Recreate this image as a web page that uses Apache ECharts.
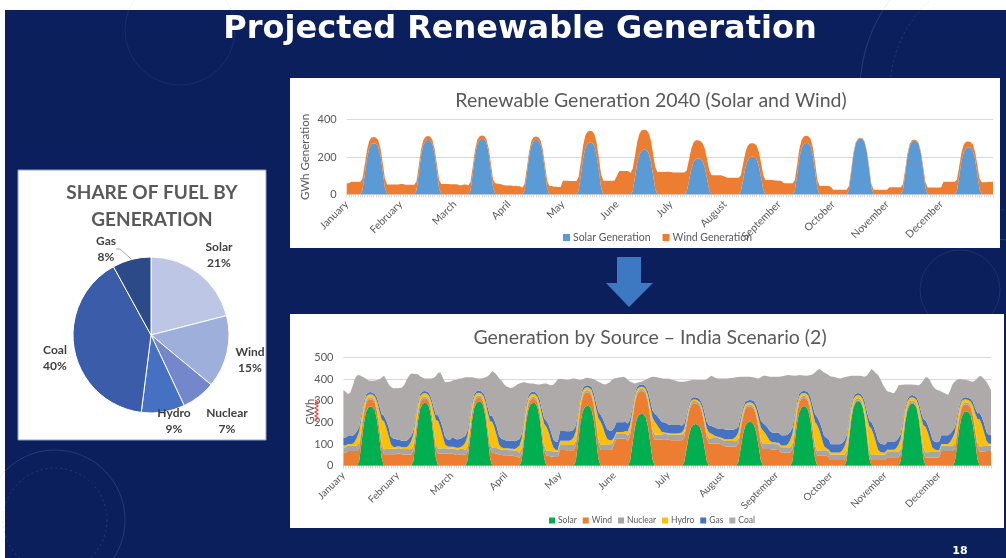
<!DOCTYPE html>
<html>
<head>
<meta charset="utf-8">
<script src="https://cdn.jsdelivr.net/npm/echarts@6/dist/echarts.min.js"></script>
<style>
  html, body { margin: 0; padding: 0; background: #0a1f5b; }
  #slide { width: 1006px; height: 558px; }
</style>
</head>
<body>
<div id="slide"></div>
<script>
// Months shown on both time-series charts; each month is a typical day of 24 hourly values (GWh).
const months = ['January', 'February', 'March', 'April', 'May', 'June',
                'July', 'August', 'September', 'October', 'November', 'December'];

// Share of fuel by generation (%)
const fuelNames = ['Solar', 'Wind', 'Nuclear', 'Hydro', 'Coal', 'Gas'];
const fuelShare = [21, 15, 7, 9, 40, 8];

// Hourly solar generation, one row per month
const solar = [
  [0,0,0,0,0,0,0,22,104,192,247,269,274,271,255,206,123,33,0,0,0,0,0,0],
  [0,0,0,0,0,0,0,23,111,204,263,286,292,289,272,219,131,35,0,0,0,0,0,0],
  [0,0,0,0,0,0,0,24,113,209,268,292,298,295,277,224,134,36,0,0,0,0,0,0],
  [0,0,0,0,0,0,0,23,111,204,263,286,292,289,272,219,131,35,0,0,0,0,0,0],
  [0,0,0,0,0,0,0,22,106,195,250,272,278,275,259,209,125,33,0,0,0,0,0,0],
  [0,0,0,0,0,0,0,19,91,168,216,235,240,238,223,180,108,29,0,0,0,0,0,0],
  [0,0,0,0,0,0,0,15,73,135,174,189,193,191,179,145,87,23,0,0,0,0,0,0],
  [0,0,0,0,0,0,0,16,77,142,183,199,203,201,189,152,91,24,0,0,0,0,0,0],
  [0,0,0,0,0,0,0,22,105,193,248,270,276,273,257,207,124,33,0,0,0,0,0,0],
  [0,0,0,0,0,0,0,24,114,209,269,293,299,296,278,224,135,36,0,0,0,0,0,0],
  [0,0,0,0,0,0,0,23,109,202,259,282,288,285,268,216,130,35,0,0,0,0,0,0],
  [0,0,0,0,0,0,0,20,96,176,227,247,252,249,234,189,113,30,0,0,0,0,0,0]
];

// Hourly wind generation
const wind = [
  [60,60,68,68,68,68,68,62,55,46,40,35,33,33,35,40,46,50,53,53,53,53,53,53],
  [56,56,52,52,52,52,52,48,42,34,26,22,20,20,22,28,36,44,56,56,56,56,55,55],
  [55,55,50,50,53,53,48,44,38,30,24,19,17,17,19,26,34,44,60,58,57,52,50,48],
  [48,48,46,46,44,44,36,34,30,26,22,19,18,18,20,26,32,40,46,46,42,42,40,40],
  [73,73,73,72,72,72,72,72,70,68,66,64,62,62,64,66,70,72,73,73,73,73,73,75],
  [100,125,125,125,125,125,115,118,115,112,110,108,106,106,108,112,115,118,120,120,120,120,122,122],
  [120,118,118,118,118,118,118,115,112,108,104,100,96,94,96,100,104,106,103,103,103,103,103,100],
  [95,90,89,89,89,89,89,86,84,80,76,73,71,71,73,76,78,78,77,77,77,77,75,75],
  [73,73,60,60,60,60,60,56,52,48,44,40,38,38,40,44,46,46,46,46,46,46,46,42],
  [26,26,26,26,26,26,26,22,16,12,8,5,4,4,5,8,14,20,26,26,26,26,26,26],
  [26,39,39,39,39,39,39,32,24,16,10,7,5,5,7,12,20,30,38,38,38,38,38,38],
  [39,68,68,68,68,68,68,60,55,48,40,34,31,31,34,40,48,56,66,66,66,68,68,68]
];

// Hourly nuclear generation
const nuclear = [
  [25,25,25,25,25,25,24,22,18,14,12,10,10,10,11,13,16,20,23,24,25,25,25,25],
  [25,25,25,25,25,25,24,22,18,14,12,10,10,10,11,13,16,20,23,24,25,25,25,25],
  [25,25,25,25,25,25,24,22,18,14,12,10,10,10,11,13,16,20,23,24,25,25,25,25],
  [25,25,25,25,25,25,24,22,18,14,12,10,10,10,11,13,16,20,23,24,25,25,25,25],
  [25,25,25,25,25,25,24,22,18,14,12,10,10,10,11,13,16,20,23,24,25,25,25,25],
  [25,25,25,25,25,25,24,22,18,14,12,10,10,10,11,13,16,20,23,24,25,25,25,25],
  [25,25,25,25,25,25,24,22,18,14,12,10,10,10,11,13,16,20,23,24,25,25,25,25],
  [25,25,25,25,25,25,24,22,18,14,12,10,10,10,11,13,16,20,23,24,25,25,25,25],
  [25,25,25,25,25,25,24,22,18,14,12,10,10,10,11,13,16,20,23,24,25,25,25,25],
  [25,25,25,25,25,25,24,22,18,14,12,10,10,10,11,13,16,20,23,24,25,25,25,25],
  [25,25,25,25,25,25,24,22,18,14,12,10,10,10,11,13,16,20,23,24,25,25,25,25],
  [25,25,25,25,25,25,24,22,18,14,12,10,10,10,11,13,16,20,23,24,25,25,25,25]
];

// Hourly hydro generation
const hydro = [
  [8,8,8,8,8,18,38,52,45,30,20,15,14,14,18,35,65,110,130,100,62,22,10,8],
  [8,8,8,8,8,18,36,50,44,30,20,15,14,14,18,35,66,112,128,96,58,20,10,8],
  [8,8,8,8,8,16,34,48,42,28,18,14,13,13,17,32,60,105,120,92,55,20,10,8],
  [8,8,8,8,8,15,32,45,40,27,18,14,13,13,16,30,56,98,110,85,50,18,9,8],
  [18,18,18,18,18,22,34,44,38,26,18,14,13,13,16,28,52,95,108,82,48,25,20,18],
  [6,6,6,6,6,10,20,28,24,18,13,10,10,10,12,20,35,55,60,45,28,12,8,6],
  [6,6,6,6,6,8,12,18,16,12,9,8,8,8,9,12,18,25,28,22,14,8,6,6],
  [8,8,8,8,8,12,22,30,26,18,13,10,10,10,12,20,35,55,62,48,30,14,9,8],
  [8,8,8,8,8,16,34,48,42,28,18,14,13,13,17,32,60,105,120,92,55,20,10,8],
  [10,10,10,10,10,18,36,50,44,30,20,15,14,14,18,35,62,108,122,95,58,22,12,10],
  [10,10,10,10,10,17,35,48,42,29,19,15,14,14,18,34,60,104,118,92,56,21,12,10],
  [8,8,8,8,8,18,38,52,45,30,20,15,14,14,18,35,65,110,125,98,60,22,10,8]
];

// Hourly gas generation
const gas = [
  [37,37,37,37,37,35,30,22,15,12,10,10,10,10,12,18,23,25,25,32,40,35,38,40],
  [30,30,30,30,30,30,26,20,14,11,10,10,10,10,12,16,22,24,26,32,38,34,32,30],
  [40,40,40,40,40,38,32,24,16,12,10,10,10,10,12,18,24,26,28,34,42,40,40,40],
  [36,36,36,36,36,34,30,22,15,12,10,10,10,10,12,18,24,26,28,34,40,38,38,38],
  [45,45,45,45,45,42,36,26,17,13,11,10,10,11,13,20,26,30,32,38,45,45,45,45],
  [45,45,45,45,45,42,36,26,17,13,11,10,10,11,13,20,28,34,38,42,46,46,45,45],
  [40,40,40,40,40,38,32,24,16,12,10,10,10,10,12,18,25,30,33,35,38,38,38,40],
  [45,45,45,45,45,42,36,26,17,13,11,10,10,11,13,20,28,32,35,40,45,45,45,45],
  [48,48,48,48,48,45,38,28,18,14,11,10,10,11,14,22,30,34,36,42,48,48,48,48],
  [38,38,38,38,38,36,30,22,15,12,10,10,10,10,12,18,25,28,30,36,42,40,40,38],
  [36,36,36,36,36,34,30,22,15,12,10,10,10,10,12,18,24,27,30,35,40,38,36,36],
  [40,40,40,40,40,38,32,24,16,12,10,10,10,10,12,18,24,27,30,36,42,40,40,40]
];

// Hourly coal generation
const coal = [
  [220,212,194,200,227,254,258,240,177,115,73,57,52,55,64,85,127,170,186,189,198,230,232,232],
  [239,241,247,260,282,290,289,263,195,130,83,65,58,61,69,93,135,180,197,224,233,251,266,271],
  [264,269,274,279,278,274,271,247,182,116,75,60,56,59,70,97,146,194,207,222,241,268,270,259],
  [251,247,245,247,255,258,258,238,172,101,57,42,37,38,45,70,119,162,173,187,216,252,273,289],
  [241,240,238,237,238,241,238,216,150,81,43,35,34,34,41,64,105,139,148,161,185,212,222,235],
  [228,205,207,209,211,206,203,177,120,56,21,13,13,18,31,59,106,156,170,178,188,202,203,204],
  [213,211,208,205,202,200,203,195,156,112,87,80,80,84,90,109,147,196,221,233,232,232,232,233],
  [231,236,237,238,239,239,238,231,190,145,117,110,108,108,110,124,156,201,220,227,237,251,258,259],
  [258,258,272,274,277,274,263,242,182,121,87,75,71,72,79,102,147,194,217,244,266,293,298,297],
  [314,313,311,307,305,301,294,272,207,139,98,84,80,82,90,114,166,220,247,259,277,307,297,279],
  [263,235,232,228,225,235,244,227,167,103,66,52,49,51,58,80,130,179,201,219,236,251,249,243],
  [236,202,197,192,186,201,216,212,168,121,91,82,80,80,82,94,129,162,172,188,207,234,227,209]
];

// ---- table building ----
const hourCategories = months.flatMap(m => Array.from({ length: 24 }, (_, h) => m + '|' + h));
const flat = rows => rows.flat();

const NAVY = '#0a1f5b';
const GREY_TEXT = '#595959';
const GRID_LINE = '#d9d9d9';
const chartFont = 'Lato, "Liberation Sans", sans-serif';

function timeAxis(gridIndex, fontSize) {
  return {
    type: 'category', gridIndex, data: hourCategories, boundaryGap: false,
    axisLine: { lineStyle: { color: GRID_LINE, width: 1 } },
    axisTick: { show: true, interval: 0, length: 3, lineStyle: { color: GRID_LINE } },
    axisLabel: {
      interval: 23, rotate: 45, margin: 8, color: GREY_TEXT, fontSize,
      fontFamily: chartFont, formatter: v => v.split('|')[0]
    },
    splitLine: { show: false }
  };
}

function valueAxis(gridIndex, max, interval, name, nameGap, nameSize) {
  return {
    type: 'value', gridIndex, min: 0, max, interval,
    name, nameLocation: 'middle', nameRotate: 90, nameGap, nameMoveOverlap: false,
    nameTextStyle: { color: GREY_TEXT, fontSize: nameSize, fontFamily: chartFont },
    axisLine: { show: false }, axisTick: { show: false },
    axisLabel: { color: GREY_TEXT, fontSize: 11, margin: 10, fontFamily: chartFont },
    splitLine: { lineStyle: { color: GRID_LINE, width: 1 } }
  };
}

function areaSeries(name, rows, color, xi, stack) {
  return {
    name, type: 'line', xAxisIndex: xi, yAxisIndex: xi, stack,
    data: flat(rows), symbol: 'none', smooth: false,
    lineStyle: { width: 0 }, itemStyle: { color },
    areaStyle: { color, opacity: 1 }, emphasis: { disabled: true }
  };
}

const bottomColors = { Solar: '#00b050', Wind: '#ed7d31', Nuclear: '#a5a5a5', Hydro: '#ffc000', Gas: '#4472c4', Coal: '#aeaaaa' };
const pieColors = ['#bdc7e5', '#9eafdc', '#7487cb', '#4671c3', '#3b5ca9', '#2d4a88'];

// where each pie label block sits (centre of the two-line text)
const pieLabelSpots = [[219, 255], [250, 360], [227, 421], [174, 421], [55, 358], [106, 249]];

// faint circuit-style ornaments on the slide background
const ornament = 'rgba(130,160,215,0.22)';
const decorations = [
  { type: 'circle', shape: { cx: 1010, cy: 90, r: 150 }, style: { fill: 'none', stroke: ornament, lineWidth: 1 } },
  { type: 'circle', shape: { cx: 1010, cy: 90, r: 120 }, style: { fill: 'none', stroke: ornament, lineWidth: 1, lineDash: [2, 3] } },
  { type: 'circle', shape: { cx: 180, cy: 30, r: 55 }, style: { fill: 'none', stroke: 'rgba(130,160,215,0.12)', lineWidth: 1 } },
  { type: 'circle', shape: { cx: 55, cy: 520, r: 70 }, style: { fill: 'none', stroke: ornament, lineWidth: 1 } },
  { type: 'circle', shape: { cx: 55, cy: 520, r: 52 }, style: { fill: 'none', stroke: ornament, lineWidth: 1, lineDash: [2, 3] } },
  { type: 'circle', shape: { cx: 960, cy: 290, r: 40 }, style: { fill: 'none', stroke: 'rgba(130,160,215,0.15)', lineWidth: 1 } }
];

const option = {
  animation: false,
  backgroundColor: '#ffffff',
  graphic: [
    { type: 'rect', z: -20, shape: { x: 5, y: 10, width: 1001, height: 548 }, style: { fill: NAVY } },
    ...decorations.map(d => Object.assign({ z: -19, silent: true }, d)),
    // white panels
    { type: 'rect', z: -10, shape: { x: 18, y: 170, width: 248, height: 270 }, style: { fill: '#ffffff', stroke: '#8fa2c8', lineWidth: 1 } },
    { type: 'rect', z: -10, shape: { x: 290, y: 78, width: 710, height: 170 }, style: { fill: '#ffffff' } },
    { type: 'rect', z: -10, shape: { x: 290, y: 314, width: 714, height: 214 }, style: { fill: '#ffffff' } },
    // slide title
    { type: 'text', z: 10, style: { x: 520, y: 30, text: 'Projected Renewable Generation', fill: '#ffffff',
      font: 'bold 32px "DejaVu Sans", Verdana, sans-serif', textAlign: 'center', textVerticalAlign: 'middle' } },
    // pie title
    { type: 'text', z: 10, style: { x: 152, y: 193, text: 'SHARE OF FUEL BY', fill: GREY_TEXT,
      font: 'bold 19px ' + chartFont, textAlign: 'center', textVerticalAlign: 'middle' } },
    { type: 'text', z: 10, style: { x: 152, y: 220, text: 'GENERATION', fill: GREY_TEXT,
      font: 'bold 19px ' + chartFont, textAlign: 'center', textVerticalAlign: 'middle' } },
    // chart titles
    { type: 'text', z: 10, style: { x: 651, y: 101, text: 'Renewable Generation 2040 (Solar and Wind)', fill: GREY_TEXT,
      font: '19.5px ' + chartFont, textAlign: 'center', textVerticalAlign: 'middle' } },
    { type: 'text', z: 10, style: { x: 650, y: 338, text: 'Generation by Source \u2013 India Scenario (2)', fill: GREY_TEXT,
      font: '19.5px ' + chartFont, textAlign: 'center', textVerticalAlign: 'middle' } },
    // arrow between the two charts
    { type: 'polygon', z: 5, shape: { points: [[617, 257], [641, 257], [641, 283], [653, 283], [629, 307], [606, 283], [617, 283]] },
      style: { fill: '#3d79c2' } },
    // spell-check squiggle under the GWh axis name
    { type: 'polyline', z: 10, shape: { points: [[315, 400], [318, 402], [315, 404], [318, 406], [315, 408], [318, 410], [315, 412], [318, 414], [315, 416], [318, 418], [315, 420], [318, 422]] },
      style: { stroke: '#e8443a', lineWidth: 1.2, fill: 'none' } },
    // slide number
    { type: 'text', z: 10, style: { x: 960, y: 551, text: '18', fill: '#ffffff',
      font: 'bold 11px "DejaVu Sans", sans-serif', textAlign: 'center', textVerticalAlign: 'middle' } }
  ],
  legend: [
    {
      left: 558, top: 227, itemWidth: 7, itemHeight: 7, itemGap: 12, icon: 'rect',
      textStyle: { color: GREY_TEXT, fontSize: 10.5, fontFamily: chartFont, padding: [0, 0, 0, -2] },
      data: [
        { name: 'Solar Generation', itemStyle: { color: '#5b9bd5' } },
        { name: 'Wind Generation', itemStyle: { color: '#ed7d31' } }
      ]
    },
    {
      left: 544, top: 511, itemWidth: 6, itemHeight: 6, itemGap: 6, icon: 'rect',
      textStyle: { color: GREY_TEXT, fontSize: 8.5, fontFamily: chartFont, padding: [0, 0, 0, -2] },
      data: ['Solar', 'Wind', 'Nuclear', 'Hydro', 'Gas', 'Coal'].map(n => ({ name: n, itemStyle: { color: bottomColors[n] } }))
    }
  ],
  grid: [
    { left: 346.7, right: 13, top: 119.5, height: 75, outerBoundsMode: 'none' },
    { left: 343.4, right: 15, top: 357.7, height: 108, outerBoundsMode: 'none' }
  ],
  xAxis: [timeAxis(0, 10.5), timeAxis(1, 10)],
  yAxis: [valueAxis(0, 400, 200, 'GWh Generation', 35, 11.5), valueAxis(1, 500, 100, 'GWh', 27, 11)],
  series: [
    areaSeries('Solar Generation', solar, '#5b9bd5', 0, 'renewable'),
    areaSeries('Wind Generation', wind, '#ed7d31', 0, 'renewable'),
    areaSeries('Solar', solar, bottomColors.Solar, 1, 'source'),
    areaSeries('Wind', wind, bottomColors.Wind, 1, 'source'),
    areaSeries('Nuclear', nuclear, bottomColors.Nuclear, 1, 'source'),
    areaSeries('Hydro', hydro, bottomColors.Hydro, 1, 'source'),
    areaSeries('Gas', gas, bottomColors.Gas, 1, 'source'),
    areaSeries('Coal', coal, bottomColors.Coal, 1, 'source'),
    {
      name: 'Share of fuel', type: 'pie', center: [151, 335], radius: 78,
      startAngle: 90, clockwise: true, legendHoverLink: false, silent: true,
      data: fuelNames.map((n, i) => ({
        name: n, value: fuelShare[i], itemStyle: { color: pieColors[i] },
        labelLine: { show: n === 'Gas', length: 4, length2: 4, lineStyle: { color: '#a6a6a6', width: 1 } }
      })),
      itemStyle: { borderColor: '#ffffff', borderWidth: 1 },
      label: {
        show: true, position: 'outside', formatter: '{b}\n{c}%',
        color: '#404040', fontSize: 12, fontWeight: 'bold', lineHeight: 16, fontFamily: chartFont
      },
      labelLine: { show: false, length: 6, length2: 4 },
      labelLayout: p => {
        const s = pieLabelSpots[p.dataIndex];
        return { x: s[0], y: s[1], align: 'center', verticalAlign: 'middle' };
      },
      emphasis: { disabled: true }
    }
  ]
};

const chart = echarts.init(document.getElementById('slide'), null, { renderer: 'canvas' });
chart.setOption(option);
</script>
</body>
</html>
